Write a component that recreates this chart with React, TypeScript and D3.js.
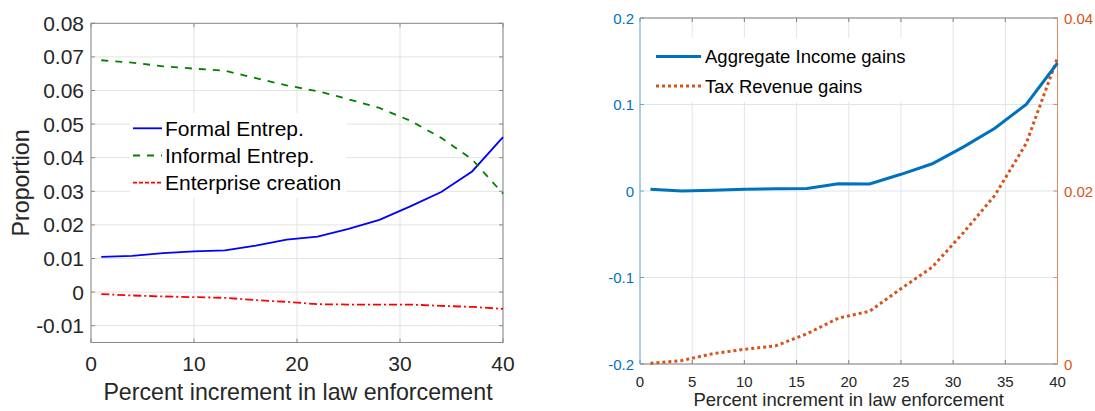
import { useEffect, useRef } from "react";
import * as d3 from "d3";

const steps = [1, 4, 7, 10, 13, 16, 19, 22, 25, 28, 31, 34, 37, 40];
const formalEntrep = [0.0105, 0.0108, 0.0116, 0.0121, 0.0124, 0.0138, 0.0156, 0.0165, 0.0188, 0.0215, 0.0255, 0.0298, 0.0359, 0.0461];
const informalEntrep = [0.069, 0.0683, 0.0672, 0.0665, 0.0659, 0.0637, 0.0615, 0.0598, 0.0574, 0.0548, 0.051, 0.0459, 0.0395, 0.0293];
const enterpriseCreation = [-0.0006, -0.001, -0.0013, -0.0015, -0.0017, -0.0024, -0.0029, -0.0036, -0.0037, -0.0037, -0.0037, -0.0041, -0.0044, -0.005];
const incomeGains = [0.002, 0.0, 0.001, 0.002, 0.0025, 0.003, 0.0085, 0.0082, 0.0193, 0.0315, 0.051, 0.0725, 0.1, 0.148];
const taxGains = [0.0001, 0.0004, 0.0012, 0.0017, 0.0021, 0.0035, 0.0053, 0.0061, 0.0087, 0.0112, 0.0152, 0.0195, 0.0255, 0.0354];

const leftXTicks = [0, 10, 20, 30, 40];
const leftYTicks = [-0.01, 0, 0.01, 0.02, 0.03, 0.04, 0.05, 0.06, 0.07, 0.08];
const rightXTicks = [0, 5, 10, 15, 20, 25, 30, 35, 40];
const rightYTicks = [-0.2, -0.1, 0, 0.1, 0.2];
const rightY2Ticks = [0, 0.01, 0.02, 0.03, 0.04];
const rightY2Labels = ["0", "", "0.02", "", "0.04"];

const leftLegend = ["Formal Entrep.", "Informal Entrep.", "Enterprise creation"];
const rightLegend = ["Aggregate Income gains", "Tax Revenue gains"];

const FONT = "'Liberation Sans', Arial, sans-serif";
const fmt = (v: number) => (v === 0 ? "0" : String(+v.toFixed(3)));

export default function App() {
  const ref = useRef<SVGSVGElement | null>(null);

  useEffect(() => {
    if (!ref.current) return;
    const svg = d3.select(ref.current);
    svg.selectAll("*").remove();
    svg.attr("width", 1095).attr("height", 411).style("font-family", FONT);

    // ---------- left panel ----------
    const x = d3.scaleLinear().domain([0, 40]).range([91, 503]);
    const y = d3.scaleLinear().domain([-0.015, 0.08]).range([342.5, 23.3]);
    const L = svg.append("g");

    L.selectAll("line.gx").data(leftXTicks).enter().append("line")
      .attr("x1", (d) => x(d)).attr("x2", (d) => x(d))
      .attr("y1", y.range()[0]).attr("y2", y.range()[1])
      .attr("stroke", "#e3e3e3").attr("stroke-width", 1);
    L.selectAll("line.gy").data(leftYTicks).enter().append("line")
      .attr("x1", x.range()[0]).attr("x2", x.range()[1])
      .attr("y1", (d) => y(d)).attr("y2", (d) => y(d))
      .attr("stroke", "#e3e3e3").attr("stroke-width", 1);

    // ticks on all sides
    leftXTicks.forEach((t) => {
      L.append("line").attr("x1", x(t)).attr("x2", x(t)).attr("y1", y.range()[0]).attr("y2", y.range()[0] - 4).attr("stroke", "#8a8a8a");
      L.append("line").attr("x1", x(t)).attr("x2", x(t)).attr("y1", y.range()[1]).attr("y2", y.range()[1] + 4).attr("stroke", "#8a8a8a");
    });
    leftYTicks.forEach((t) => {
      L.append("line").attr("x1", x.range()[0]).attr("x2", x.range()[0] + 4).attr("y1", y(t)).attr("y2", y(t)).attr("stroke", "#8a8a8a");
      L.append("line").attr("x1", x.range()[1]).attr("x2", x.range()[1] - 4).attr("y1", y(t)).attr("y2", y(t)).attr("stroke", "#8a8a8a");
    });

    L.append("rect")
      .attr("x", x.range()[0]).attr("y", y.range()[1])
      .attr("width", x.range()[1] - x.range()[0]).attr("height", y.range()[0] - y.range()[1])
      .attr("fill", "none").attr("stroke", "#8a8a8a").attr("stroke-width", 1);

    const lineL = (vals: number[]) =>
      d3.line<number>().x((_, i) => x(steps[i])).y((d) => y(d))(vals);

    const leftSeries = [
      { vals: formalEntrep, color: "#0000ff", dash: "none" },
      { vals: informalEntrep, color: "#008000", dash: "7,7" },
      { vals: enterpriseCreation, color: "#ff0000", dash: "8,3,2,3" },
    ];
    leftSeries.forEach((s) => {
      L.append("path").attr("d", lineL(s.vals)).attr("fill", "none")
        .attr("stroke", s.color).attr("stroke-width", 1.8).attr("stroke-dasharray", s.dash);
    });

    L.selectAll("text.xt").data(leftXTicks).enter().append("text")
      .attr("x", (d) => x(d)).attr("y", 371).attr("text-anchor", "middle")
      .attr("font-size", 21).attr("fill", "#262626").text((d) => String(d));
    L.selectAll("text.yt").data(leftYTicks).enter().append("text")
      .attr("x", 84).attr("y", (d) => y(d) + 7.5).attr("text-anchor", "end")
      .attr("font-size", 21).attr("fill", "#262626").text((d) => fmt(d));
    L.append("text").attr("x", (x.range()[0] + x.range()[1]) / 2 + 1).attr("y", 400)
      .attr("text-anchor", "middle").attr("font-size", 23.2).attr("fill", "#262626")
      .text("Percent increment in law enforcement");
    L.append("text").attr("transform", `translate(29, ${(y.range()[0] + y.range()[1]) / 2}) rotate(-90)`)
      .attr("text-anchor", "middle").attr("font-size", 23.2).attr("fill", "#262626").text("Proportion");

    // legend
    L.append("rect").attr("x", 130).attr("y", 113).attr("width", 216).attr("height", 85).attr("fill", "#fff");
    leftLegend.forEach((name, i) => {
      const ly = 128.3 + i * 27.2;
      L.append("line").attr("x1", 133).attr("x2", 162).attr("y1", ly).attr("y2", ly)
        .attr("stroke", leftSeries[i].color).attr("stroke-width", 1.8)
        .attr("stroke-dasharray", i === 2 ? "4,2" : leftSeries[i].dash);
      L.append("text").attr("x", 165).attr("y", ly + 7.5).attr("font-size", 21).attr("fill", "#000").text(name);
    });

    // ---------- right panel ----------
    const xr = d3.scaleLinear().domain([0, 40]).range([640, 1057.5]);
    const yr = d3.scaleLinear().domain([-0.2, 0.2]).range([364, 18]);
    const yr2 = d3.scaleLinear().domain([0, 0.04]).range([364, 18]);
    const R = svg.append("g");

    R.selectAll("line.gx").data(rightXTicks).enter().append("line")
      .attr("x1", (d) => xr(d)).attr("x2", (d) => xr(d))
      .attr("y1", yr.range()[0]).attr("y2", yr.range()[1])
      .attr("stroke", "#dfe5ec").attr("stroke-width", 1);
    R.selectAll("line.gy").data(rightYTicks).enter().append("line")
      .attr("x1", xr.range()[0]).attr("x2", xr.range()[1])
      .attr("y1", (d) => yr(d)).attr("y2", (d) => yr(d))
      .attr("stroke", "#dfe5ec").attr("stroke-width", 1);

    rightXTicks.forEach((t) => {
      R.append("line").attr("x1", xr(t)).attr("x2", xr(t)).attr("y1", yr.range()[0]).attr("y2", yr.range()[0] - 4).attr("stroke", "#808080");
      R.append("line").attr("x1", xr(t)).attr("x2", xr(t)).attr("y1", yr.range()[1]).attr("y2", yr.range()[1] + 4).attr("stroke", "#808080");
    });
    rightYTicks.forEach((t) => {
      R.append("line").attr("x1", xr.range()[0]).attr("x2", xr.range()[0] + 4).attr("y1", yr(t)).attr("y2", yr(t)).attr("stroke", "#6aaad6");
    });
    rightY2Ticks.forEach((t) => {
      R.append("line").attr("x1", xr.range()[1]).attr("x2", xr.range()[1] - 4).attr("y1", yr2(t)).attr("y2", yr2(t)).attr("stroke", "#e08a66");
    });

    // box: top & bottom gray, left blue, right orange
    R.append("line").attr("x1", xr.range()[0]).attr("x2", xr.range()[1]).attr("y1", yr.range()[1]).attr("y2", yr.range()[1]).attr("stroke", "#808080");
    R.append("line").attr("x1", xr.range()[0]).attr("x2", xr.range()[1]).attr("y1", yr.range()[0]).attr("y2", yr.range()[0]).attr("stroke", "#808080");
    R.append("line").attr("x1", xr.range()[0]).attr("x2", xr.range()[0]).attr("y1", yr.range()[0]).attr("y2", yr.range()[1]).attr("stroke", "#6aaad6");
    R.append("line").attr("x1", xr.range()[1]).attr("x2", xr.range()[1]).attr("y1", yr.range()[0]).attr("y2", yr.range()[1]).attr("stroke", "#e08a66");

    const lineR = d3.line<number>().x((_, i) => xr(steps[i])).y((d) => yr(d));
    const lineR2 = d3.line<number>().x((_, i) => xr(steps[i])).y((d) => yr2(d));

    R.append("path").attr("d", lineR2(taxGains)).attr("fill", "none")
      .attr("stroke", "#d95319").attr("stroke-width", 3).attr("stroke-dasharray", "3,3");
    R.append("path").attr("d", lineR(incomeGains)).attr("fill", "none")
      .attr("stroke", "#0072bd").attr("stroke-width", 3);

    R.selectAll("text.xt").data(rightXTicks).enter().append("text")
      .attr("x", (d) => xr(d)).attr("y", 387).attr("text-anchor", "middle")
      .attr("font-size", 15).attr("fill", "#262626").text((d) => String(d));
    R.selectAll("text.yt").data(rightYTicks).enter().append("text")
      .attr("x", 634).attr("y", (d) => yr(d) + 5.5).attr("text-anchor", "end")
      .attr("font-size", 15).attr("fill", "#0072bd").text((d) => fmt(d));
    R.selectAll("text.y2t").data(rightY2Ticks).enter().append("text")
      .attr("x", 1064).attr("y", (d) => yr2(d) + 5.5).attr("text-anchor", "start")
      .attr("font-size", 15).attr("fill", "#d95319").text((_, i) => rightY2Labels[i]);
    R.append("text").attr("x", (xr.range()[0] + xr.range()[1]) / 2).attr("y", 406)
      .attr("text-anchor", "middle").attr("font-size", 18.5).attr("fill", "#262626")
      .text("Percent increment in law enforcement");

    R.append("rect").attr("x", 650).attr("y", 38).attr("width", 265).attr("height", 64).attr("fill", "#fff");
    const rightStyles = [
      { color: "#0072bd", dash: "none" },
      { color: "#d95319", dash: "3,3" },
    ];
    rightLegend.forEach((name, i) => {
      const ly = 56.5 + i * 29.5;
      R.append("line").attr("x1", 656).attr("x2", 701).attr("y1", ly).attr("y2", ly)
        .attr("stroke", rightStyles[i].color).attr("stroke-width", 3).attr("stroke-dasharray", rightStyles[i].dash);
      R.append("text").attr("x", 705).attr("y", ly + 6.5).attr("font-size", 18.5).attr("fill", "#000").text(name);
    });
  }, []);

  return (
    <div style={{ position: "absolute", left: 0, top: 0, background: "#fff" }}>
      <svg ref={ref}></svg>
    </div>
  );
}
